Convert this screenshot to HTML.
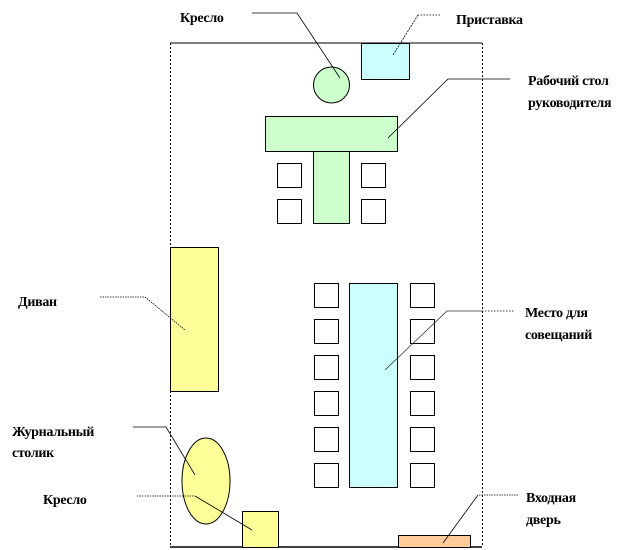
<!DOCTYPE html>
<html><head><meta charset="utf-8"><style>
html,body{margin:0;padding:0;background:#fff;}
svg{display:block;}
text{font-family:"Liberation Serif",serif;font-weight:bold;font-size:14px;fill:#000;letter-spacing:-0.3px;}
</style></head><body>
<svg width="640" height="550" viewBox="0 0 640 550" xmlns="http://www.w3.org/2000/svg">
<line x1="170" y1="43" x2="482" y2="43" stroke="#000" stroke-width="1"/>
<line x1="170" y1="547" x2="482" y2="547" stroke="#000" stroke-width="1.5"/>
<line x1="170.5" y1="43" x2="170.5" y2="547" stroke="#000" stroke-dasharray="2,2"/>
<line x1="482.5" y1="43" x2="482.5" y2="547" stroke="#000" stroke-dasharray="2,2"/>
<g stroke="#000" stroke-width="1">
<rect x="361.5" y="43.5" width="48" height="36" fill="#ccffff"/>
<circle cx="331.5" cy="85" r="18" fill="#ccffcc"/>
<rect x="265.5" y="116.5" width="132" height="35" fill="#ccffcc"/>
<rect x="313.5" y="151.5" width="36" height="72" fill="#ccffcc"/>
<rect x="277.5" y="163.5" width="24" height="24" fill="#fff"/>
<rect x="361.5" y="163.5" width="24" height="24" fill="#fff"/>
<rect x="277.5" y="199.5" width="24" height="24" fill="#fff"/>
<rect x="361.5" y="199.5" width="24" height="24" fill="#fff"/>
<rect x="170.5" y="247.5" width="48" height="144" fill="#ffff99"/>
<rect x="349.5" y="283.5" width="48" height="204" fill="#ccffff"/>
<g fill="#fff">
<rect x="314.5" y="283.5" width="24" height="24"/><rect x="410.5" y="283.5" width="24" height="24"/>
<rect x="314.5" y="319.5" width="24" height="24"/><rect x="410.5" y="319.5" width="24" height="24"/>
<rect x="314.5" y="355.5" width="24" height="24"/><rect x="410.5" y="355.5" width="24" height="24"/>
<rect x="314.5" y="391.5" width="24" height="24"/><rect x="410.5" y="391.5" width="24" height="24"/>
<rect x="314.5" y="427.5" width="24" height="24"/><rect x="410.5" y="427.5" width="24" height="24"/>
<rect x="314.5" y="463.5" width="24" height="24"/><rect x="410.5" y="463.5" width="24" height="24"/>
</g>
<ellipse cx="206" cy="481" rx="24" ry="43" fill="#ffff99"/>
<rect x="242.5" y="511.5" width="36" height="36" fill="#ffff99"/>
<rect x="398.5" y="535.5" width="72" height="12" fill="#ffcc99"/>
</g>
<g stroke="#000" stroke-width="0.8" fill="none">
<polyline points="252,13 297,13 340,78"/>
<polyline points="510,79 448,79 388,138"/>
<polyline points="133,427 166,427 195,475"/>
<polyline points="482,311 447,311 385,370" stroke="#333"/>
<line x1="440" y1="15" x2="418" y2="15" stroke-dasharray="1.5,1.5"/>
<line x1="418" y1="15" x2="393" y2="55" stroke-dasharray="2,1"/>
<line x1="482" y1="311" x2="515" y2="311" stroke-dasharray="1.5,1.5"/>
<polyline points="100,297 145,297 185,330" stroke-dasharray="1.5,1"/>
<line x1="137" y1="496" x2="195" y2="496" stroke-dasharray="1.5,1"/>
<line x1="195" y1="496" x2="252" y2="530"/>
<line x1="518" y1="495" x2="478" y2="495" stroke-dasharray="1.5,1"/>
<line x1="478" y1="495" x2="443" y2="543"/>
</g>
<text x="180" y="22">Кресло</text>
<text x="456" y="24">Приставка</text>
<text x="528" y="85">Рабочий стол</text>
<text x="528" y="107">руководителя</text>
<text x="18" y="306">Диван</text>
<text x="525" y="317">Место для</text>
<text x="525" y="339">совещаний</text>
<text x="12" y="436">Журнальный</text>
<text x="12" y="457">столик</text>
<text x="43" y="504">Кресло</text>
<text x="526" y="502">Входная</text>
<text x="526" y="524">дверь</text>
</svg>
</body></html>
